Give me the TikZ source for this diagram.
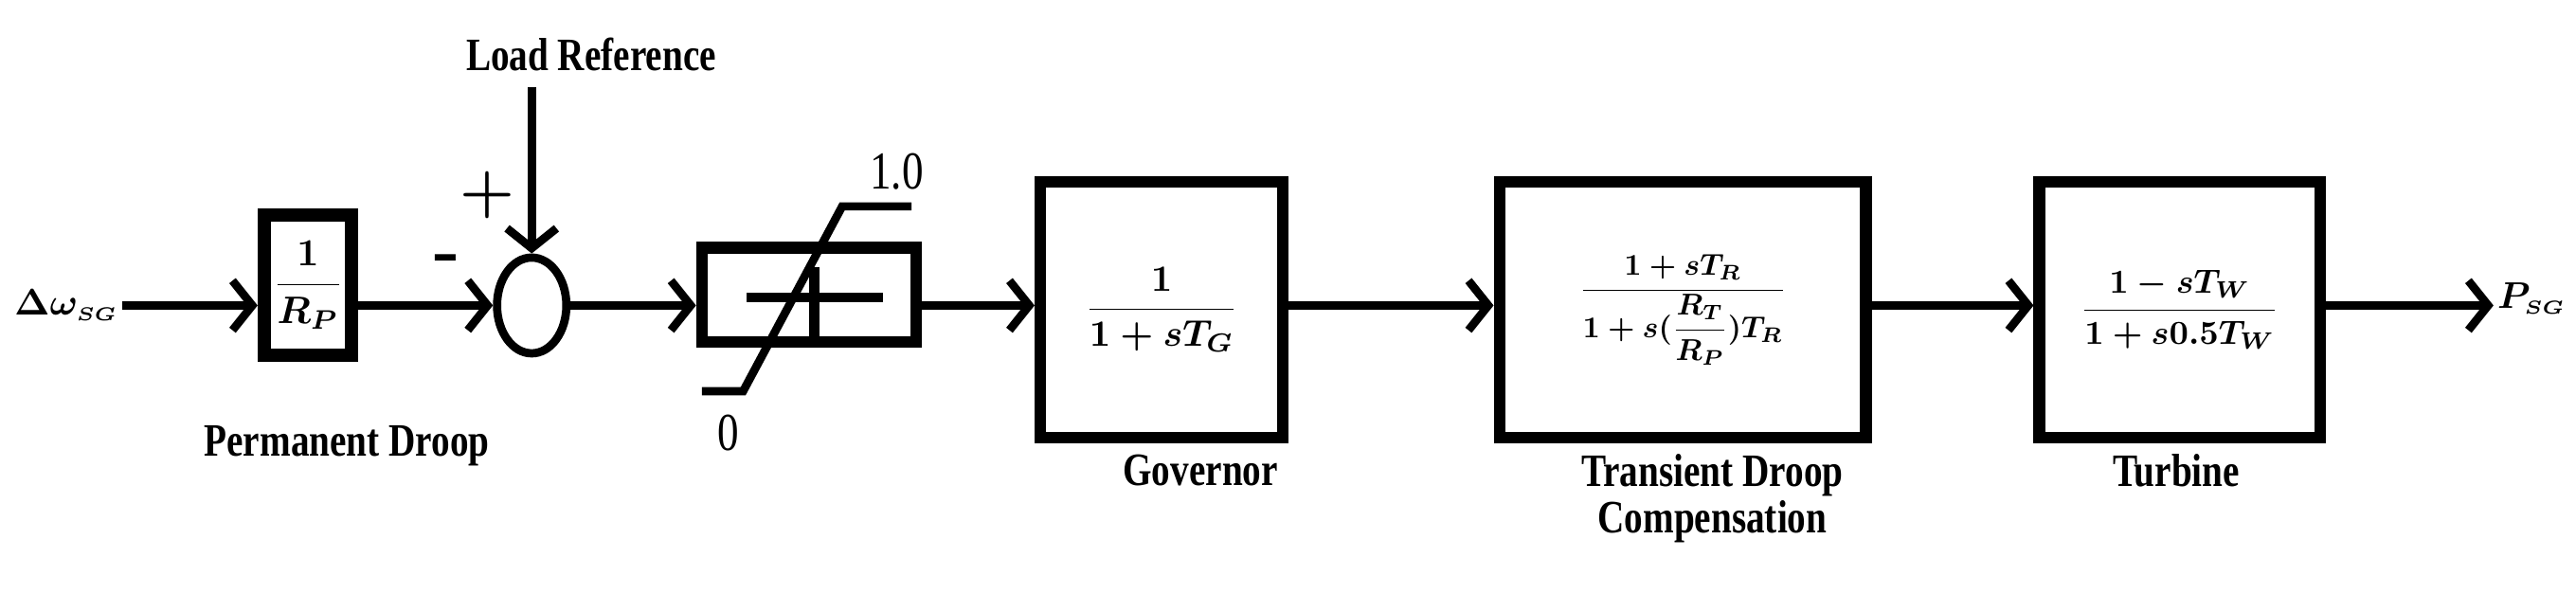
\documentclass[tikz,border=0pt]{standalone}
\usepackage{amsmath}
\usepackage{graphicx}
\usepackage{fontspec}
\newfontfamily\cond[FakeStretch=0.8]{Liberation Serif}
\newcommand{\mybigmath}[2]{\scalebox{#1}{\boldmath$\displaystyle #2$}}
\usetikzlibrary{arrows.meta,shapes.geometric}
\begin{document}
\begin{tikzpicture}[x=0.05cm,y=-0.05cm,
  arr/.style={line width=0.25cm,-{Straight Barb[length=0.6cm,width=1.5cm]}},
  blk/.style={draw,line width=0.35cm,inner sep=0pt},
  lbl/.style={font=\cond\bfseries\fontsize{40}{46}\selectfont,align=center}]
\useasboundingbox (0,0) rectangle (1560,359);
\node (in) at (40,185) {\mybigmath{3.2}{\Delta\omega_{\scriptscriptstyle SG}}};
\node[blk,minimum width=2.65cm,minimum height=4.25cm,line width=0.4cm] (rp) at (186.5,172.5) {\mybigmath{3.3}{\frac{1}{R_P}}};
\node[lbl] (rplbl) at (210,270) {Permanent Droop};
\node[draw,ellipse,line width=0.25cm,minimum width=2.1cm,minimum height=2.9cm,inner sep=0pt] (sum) at (322,185) {};
\node[lbl] (lref) at (358,33) {Load Reference};
\coordinate (lreftop) at (322,53);
\node[font=\bfseries\fontsize{54}{54}\selectfont] (plus) at (295,118) {+};
\node[font=\bfseries\fontsize{60}{60}\selectfont] (minus) at (271,160) {-};
\node[blk,minimum width=6.5cm,minimum height=2.85cm] (sat) at (490,178.5) {};
\coordinate (s1) at (425,237); \coordinate (s2) at (450,237);
\coordinate (s3) at (510,125); \coordinate (s4) at (552,125);
\draw[line width=0.25cm] (s1) -- (s2) -- (s3) -- (s4);
\coordinate (c1) at (452,180); \coordinate (c2) at (535,180);
\coordinate (c3) at (493,162); \coordinate (c4) at (493,206);
\draw[line width=0.3cm] (c1) -- (c2) (c3) -- (c4);
\node[font=\cond\fontsize{46}{50}\selectfont] (one) at (543,104) {1.0};
\node[font=\cond\fontsize{46}{50}\selectfont] (zero) at (441,262) {0};
\node[blk,minimum width=7.35cm,minimum height=7.75cm] (gov) at (703.5,187.5) {\mybigmath{3.2}{\frac{1}{1+sT_G}}};
\node[lbl] (govlbl) at (727,285) {Governor};
\node[blk,minimum width=11.1cm,minimum height=7.75cm] (tr) at (1019,187.5) {\mybigmath{2.6}{\frac{1+sT_R}{1+s(\dfrac{R_T}{R_P})T_R}}};
\node[lbl] (trlbl) at (1037,302) {Transient Droop\\[-6pt]Compensation};
\node[blk,minimum width=8.5cm,minimum height=7.75cm] (tu) at (1320,187.5) {\mybigmath{2.9}{\frac{1-sT_W}{1+s0.5T_W}}};
\node[lbl] (tulbl) at (1318,285) {Turbine};
\node[anchor=west] (out) at (1510,181) {\mybigmath{3.2}{P_{\scriptscriptstyle SG}}};
\draw[arr] (in.east) -- (rp.west|-in);
\draw[arr] (rp.east|-sum.west) -- (sum.west);
\draw[arr] (lreftop) -- (sum.north);
\draw[arr] (sum.east) -- (sat.west|-sum);
\draw[arr] (sat.east|-sum) -- (gov.west|-sum);
\draw[arr] (gov.east|-sum) -- (tr.west|-sum);
\draw[arr] (tr.east|-sum) -- (tu.west|-sum);
\draw[arr] (tu.east|-sum) -- (out.west|-sum);
\end{tikzpicture}
\end{document}
